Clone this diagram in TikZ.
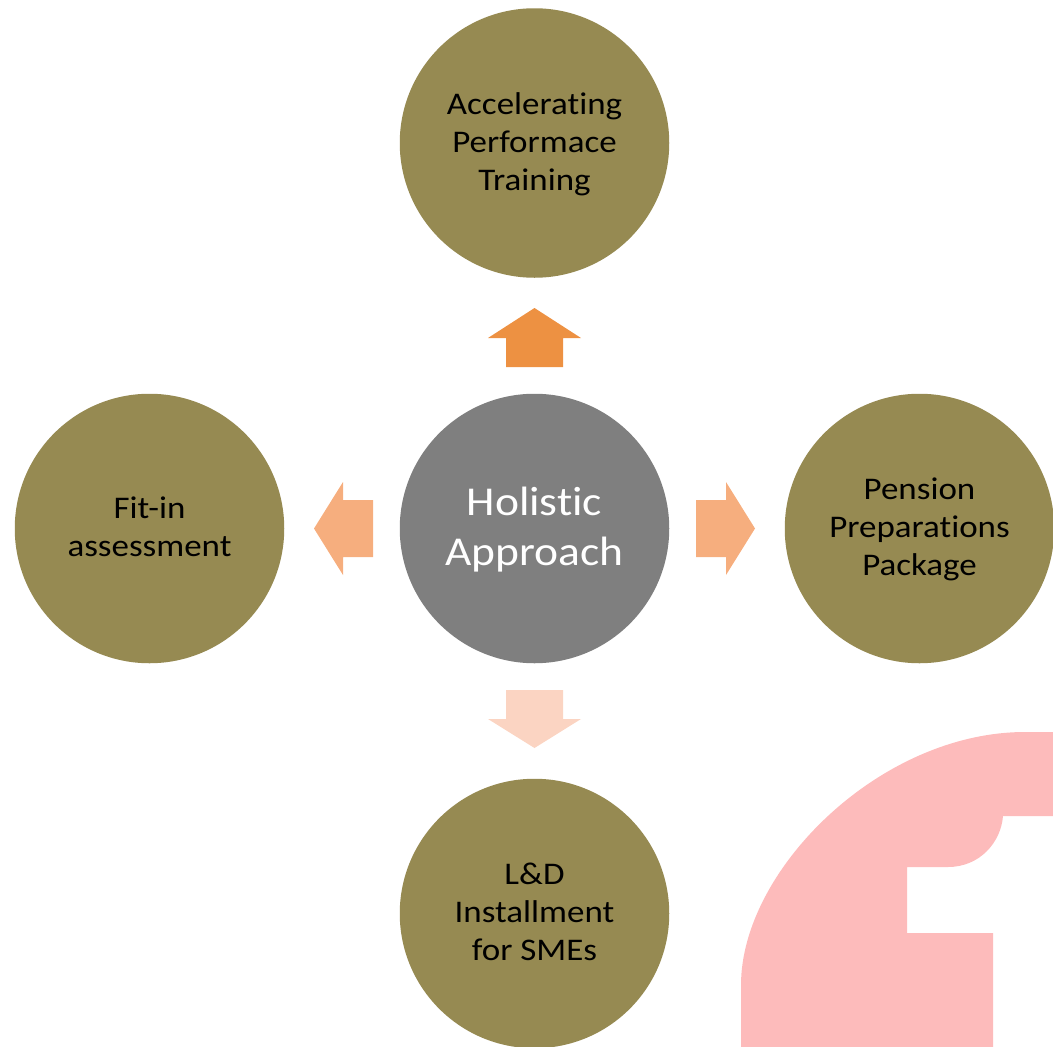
\documentclass[tikz,border=0pt]{standalone}
\usepackage{fontspec}
\setmainfont[FakeStretch=1.11,Ligatures={NoCommon}]{Carlito}
\definecolor{olivec}{HTML}{968A52}
\definecolor{greyc}{HTML}{7F7F7F}
\definecolor{arrowa}{HTML}{ED9142}
\definecolor{arrowb}{HTML}{F6AE7E}
\definecolor{arrowc}{HTML}{FBD4C2}
\definecolor{markc}{HTML}{FDBBBB}
\tikzset{
  bubble/.style={circle,draw=none,fill=olivec,minimum size=269.5pt,inner sep=0pt,align=center,text=black,font=\fontsize{31.5pt}{38pt}\selectfont},
  hub/.style={bubble,fill=greyc,text=white,font=\fontsize{41pt}{50pt}\selectfont},
  blockarrow/.style={draw=none,fill=#1}
}
\begin{document}
\begin{tikzpicture}[x=1pt,y=-1pt]
\useasboundingbox (0,0) rectangle (1053,1047);
% watermark
\fill[markc] (741,1047) -- (741,985) .. controls (741,870) and (880,732) .. (1025,732) -- (1053,732) -- (1053,816) -- (1003,816)
  .. controls (1001,842) and (980,867) .. (948,867) -- (907,867) -- (907,933) -- (993,933) -- (993,1047) -- cycle;
% nodes
\node[hub] (c) at (534.5,528.5) {\rule{0pt}{31pt}Holistic\\Approach};
\node[bubble] (t) at (534.5,143) {\rule{0pt}{24pt}Accelerating\\Performace\\Training};
\node[bubble] (l) at (149.5,528.5) {Fit-in\\assessment\rule[-4pt]{0pt}{4pt}};
\node[bubble] (r) at (919.5,528.5) {\rule{0pt}{24pt}Pension\\Preparations\\Package};
\node[bubble] (b) at (534.5,913.5) {L\&D\\Installment\\for SMEs\rule[-4pt]{0pt}{4pt}};
% arrows
\path[blockarrow=arrowa] (506,367) -- (506,338) -- (488,338) -- (534.5,308) -- (581,338) -- (563,338) -- (563,367) -- cycle;
\path[blockarrow=arrowb] (696,500) -- (726,500) -- (726,482) -- (755,528.5) -- (726,575) -- (726,557) -- (696,557) -- cycle;
\path[blockarrow=arrowb] (373,500) -- (343,500) -- (343,482) -- (314,528.5) -- (343,575) -- (343,557) -- (373,557) -- cycle;
\path[blockarrow=arrowc] (506,690) -- (506,719) -- (488,719) -- (534.5,748) -- (581,719) -- (563,719) -- (563,690) -- cycle;
\end{tikzpicture}
\end{document}
